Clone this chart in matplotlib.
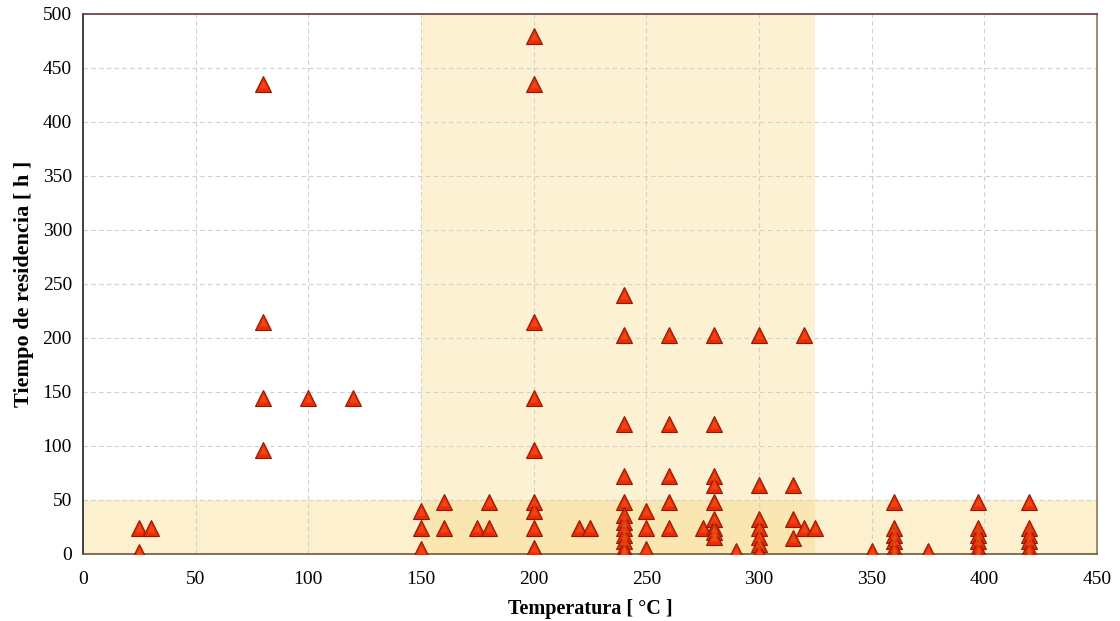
import matplotlib
matplotlib.use("Agg")
import matplotlib.pyplot as plt
from matplotlib.patches import Rectangle

plt.rcParams["font.family"] = ["Liberation Serif", "DejaVu Serif"]

# Reaction conditions: temperature [°C] and residence time [h]
temperatura = [
    25, 25, 30,
    80, 80, 80, 80, 100, 120,
    150, 150, 150, 160, 160, 175, 180, 180,
    200, 200, 200, 200, 200, 200, 200, 200, 200,
    220, 225,
    240, 240, 240, 240, 240, 240, 240, 240, 240, 240, 240, 240,
    250, 250, 250,
    260, 260, 260, 260, 260,
    275,
    280, 280, 280, 280, 280, 280, 280, 280, 280,
    290,
    300, 300, 300, 300, 300, 300, 300,
    315, 315, 315, 320, 320, 325,
    350,
    360, 360, 360, 360, 360, 360,
    375,
    397, 397, 397, 397, 397, 397,
    420, 420, 420, 420, 420, 420,
]
tiempo = [
    24, 2, 24,
    435, 215, 144, 96, 144, 144,
    40, 24, 5, 48, 24, 24, 48, 24,
    480, 435, 215, 144, 96, 48, 40, 24, 6,
    24, 24,
    240, 203, 120, 72, 48, 36, 30, 24, 18, 12, 6, 2,
    40, 24, 5,
    203, 120, 72, 48, 24,
    24,
    203, 120, 72, 64, 48, 32, 24, 20, 16,
    3,
    203, 64, 32, 24, 16, 9, 2,
    64, 32, 15, 203, 24, 24,
    3,
    48, 24, 18, 12, 6, 1,
    3,
    48, 24, 18, 12, 6, 1,
    48, 24, 18, 12, 6, 1,
]

# Highlighted regions
zona_temp = (150, 325)
zona_tiempo = (0, 50)

x_ticks = list(range(0, 451, 50))
y_ticks = list(range(0, 501, 50))

fig = plt.figure(figsize=(11.2, 6.21), dpi=100)
ax = fig.add_axes([0.0741, 0.1079, 0.9054, 0.8696])

ax.set_xlim(0, 450)
ax.set_ylim(0, 500)

band = "#F7CF63"
ax.add_patch(Rectangle((zona_temp[0], 0), zona_temp[1] - zona_temp[0], 500,
                       facecolor=band, alpha=0.28, edgecolor="none", zorder=0))
ax.add_patch(Rectangle((0, zona_tiempo[0]), 450, zona_tiempo[1] - zona_tiempo[0],
                       facecolor=band, alpha=0.3, edgecolor="none", zorder=0))

ax.grid(True, color="#d0d0d0", linestyle=(0, (4, 3)), linewidth=0.8, zorder=0.5)
ax.set_axisbelow(True)

# red body with an orange cap for a shaded look
ax.plot(temperatura, tiempo, linestyle="none", marker="^", markersize=11,
        markerfacecolor="#EC2A08", markeredgecolor="#8E1A04", markeredgewidth=0.8,
        zorder=3)
ax.plot(temperatura, tiempo, linestyle="none", marker="^", markersize=6,
        markerfacecolor="#F65A14", markeredgecolor="none", alpha=0.6,
        zorder=3.1)

ax.set_xticks(x_ticks)
ax.set_yticks(y_ticks)
ax.tick_params(axis="both", length=0, labelsize=14)
ax.tick_params(axis="x", pad=12)
ax.tick_params(axis="y", pad=8)

ax.set_xlabel("Temperatura [ °C ]", fontsize=14.5, fontweight="bold", labelpad=8)
ax.set_ylabel("Tiempo de residencia [ h ]", fontsize=16, fontweight="bold", labelpad=6)

ax.spines["left"].set_color("#222222")
ax.spines["bottom"].set_color("#6b5a3a")
ax.spines["top"].set_color("#6b3a3a")
ax.spines["right"].set_color("#8a7a55")
for s in ax.spines.values():
    s.set_linewidth(1.2)

fig.savefig("out.png", dpi=100)
